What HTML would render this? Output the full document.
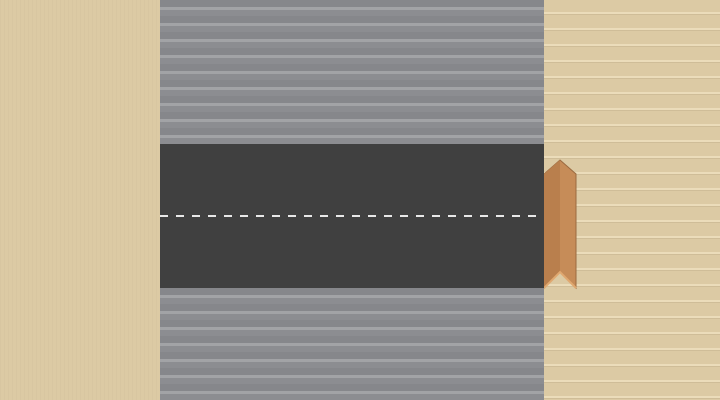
<!DOCTYPE html>
<html><head><style>
html,body{margin:0;padding:0}
body{width:720px;height:400px;position:relative;overflow:hidden;background:#dccaa4}
div{position:absolute}
#left{left:0;top:0;width:160px;height:400px;background:#dccaa4;background-image:repeating-linear-gradient(90deg,rgba(0,0,0,0.02) 0 1px,transparent 1px 4px)}
#right{left:544px;top:0;width:176px;height:400px;background:#dccaa4;background-image:repeating-linear-gradient(180deg,transparent 0 12px,#ebdcba 12px 14px,#cfbd98 14px 15px,transparent 15px 16px)}
.walk{left:160px;width:384px;height:144px;background:#8a8b8f;background-image:repeating-linear-gradient(180deg,#86878b 0 7px,#a2a3a6 7px 10px,#8c8d91 10px 16px)}
#road{left:160px;top:144px;width:384px;height:144px;background:#404040}
#dash{left:160px;top:215px;width:376px;height:2px;background:repeating-linear-gradient(90deg,#e8e8e8 0 8px,transparent 8px 16px)}
svg{position:absolute;left:544px;top:158px}
</style></head><body>
<div id="left"></div>
<div id="right"></div>
<div class="walk" style="top:0"></div>
<div id="road"></div>
<div id="dash"></div>
<div class="walk" style="top:288px;height:112px"></div>
<svg width="34" height="132">
<polygon points="0,16 16,2 32,16 32,130 16,114 0,130" fill="#c68c58" stroke="#9a6a40" stroke-width="1"/>
<polygon points="0,16 16,2 16,114 0,130" fill="#b97f4d"/>
<polyline points="0,130 16,114 32,130" fill="none" stroke="#e0a870" stroke-width="2"/>
</svg>
</body></html>
